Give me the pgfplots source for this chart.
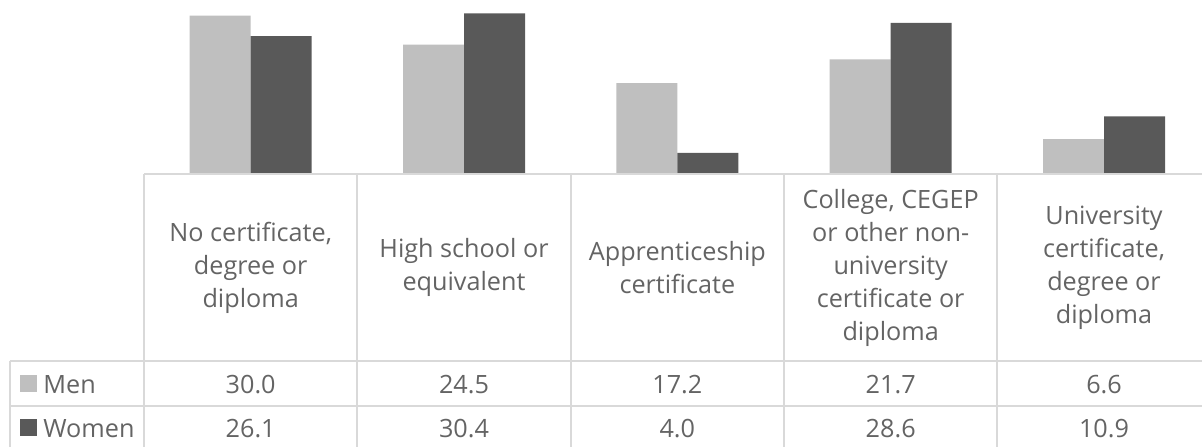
\documentclass[border=0pt]{standalone}
\usepackage{pgfplots}
\pgfplotsset{compat=1.18}
\usepackage{fontspec}
\setmainfont{Open Sans}
\definecolor{men}{HTML}{BFBFBF}
\definecolor{women}{HTML}{595959}
\definecolor{rule}{HTML}{D9D9D9}
\definecolor{txt}{HTML}{646464}

\begin{document}
\begin{tikzpicture}[font=\fontsize{12.6}{16.5}\selectfont, text=txt]
\begin{axis}[
    at={(0pt,0pt)}, anchor=south west,
    scale only axis,
    width=533.33pt, height=87pt,
    xmin=-0.5, xmax=4.5,
    ymin=0, ymax=32.95,
    ybar=0pt, bar width=30.5pt,
    hide axis,
]
\addplot[fill=men, draw=none] coordinates {(0,30.0)(1,24.5)(2,17.2)(3,21.7)(4,6.6)};
\addplot[fill=women, draw=none] coordinates {(0,26.1)(1,30.4)(2,4.0)(3,28.6)(4,10.9)};
\end{axis}

% data table below the bars
\begin{scope}[rule, line width=1pt]
  \draw (0pt,0pt) -- (529pt,0pt);
  \draw (-67pt,-93.5pt) -- (529pt,-93.5pt);
  \draw (-67pt,-116pt) -- (529pt,-116pt);
  \draw (-67pt,-93.5pt) -- (-67pt,-140pt);
  \foreach \i in {0,...,4} \draw (\i*106.667pt,0pt) -- (\i*106.667pt,-140pt);
\end{scope}

\foreach \i/\lab in {0/{No certificate,\\degree or\\diploma},
                     1/{High school or\\equivalent},
                     2/{Apprenticeship\\certificate},
                     3/{College, CEGEP\\or other non-\\university\\certificate or\\diploma},
                     4/{University\\certificate,\\degree or\\diploma}}
  \node[align=center] at ({(\i+0.5)*106.667pt}, -46.75pt) {\lab};

\fill[men] (-62pt,-109pt) rectangle (-53.5pt,-100.5pt);
\fill[women] (-62pt,-131pt) rectangle (-53.5pt,-122.5pt);
\node[anchor=base west, inner sep=0pt] at (-50.5pt,-109.5pt) {Men};
\node[anchor=base west, inner sep=0pt] at (-50.5pt,-131.5pt) {Women};

\foreach \i/\m/\w in {0/30.0/26.1, 1/24.5/30.4, 2/17.2/4.0, 3/21.7/28.6, 4/6.6/10.9} {
  \node[anchor=base, inner sep=0pt] at ({(\i+0.5)*106.667pt}, -109.5pt) {\m};
  \node[anchor=base, inner sep=0pt] at ({(\i+0.5)*106.667pt}, -131.5pt) {\w};
}

\pgfresetboundingbox
\useasboundingbox (-72pt,-136pt) rectangle (529pt,87pt);
\end{tikzpicture}
\end{document}
